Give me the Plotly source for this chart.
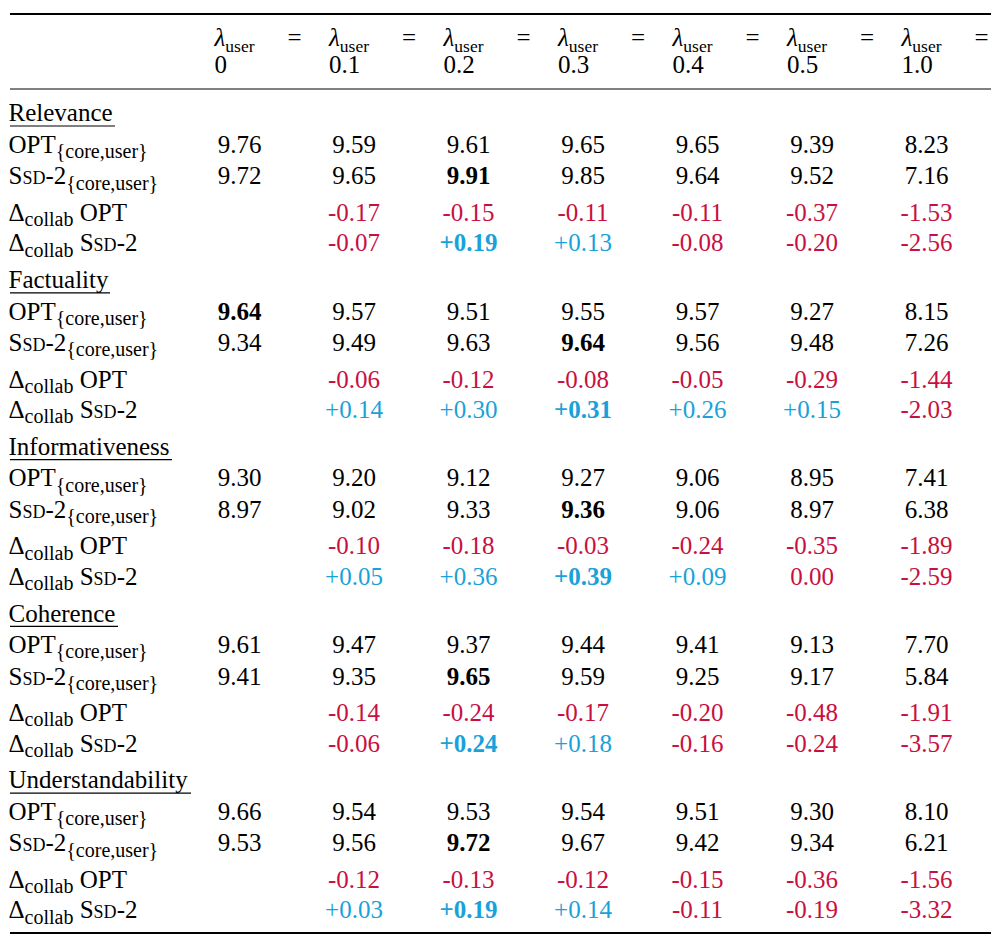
import plotly.graph_objects as go

# ---------------- data ----------------
lambdas = ["0", "0.1", "0.2", "0.3", "0.4", "0.5", "1.0"]
groups = ["Relevance", "Factuality", "Informativeness", "Coherence", "Understandability"]

opt_scores = [
    [9.76, 9.59, 9.61, 9.65, 9.65, 9.39, 8.23],
    [9.64, 9.57, 9.51, 9.55, 9.57, 9.27, 8.15],
    [9.30, 9.20, 9.12, 9.27, 9.06, 8.95, 7.41],
    [9.61, 9.47, 9.37, 9.44, 9.41, 9.13, 7.70],
    [9.66, 9.54, 9.53, 9.54, 9.51, 9.30, 8.10],
]
ssd_scores = [
    [9.72, 9.65, 9.91, 9.85, 9.64, 9.52, 7.16],
    [9.34, 9.49, 9.63, 9.64, 9.56, 9.48, 7.26],
    [8.97, 9.02, 9.33, 9.36, 9.06, 8.97, 6.38],
    [9.41, 9.35, 9.65, 9.59, 9.25, 9.17, 5.84],
    [9.53, 9.56, 9.72, 9.67, 9.42, 9.34, 6.21],
]
# deltas for lambda = 0.1 ... 1.0
delta_opt = [
    [-0.17, -0.15, -0.11, -0.11, -0.37, -1.53],
    [-0.06, -0.12, -0.08, -0.05, -0.29, -1.44],
    [-0.10, -0.18, -0.03, -0.24, -0.35, -1.89],
    [-0.14, -0.24, -0.17, -0.20, -0.48, -1.91],
    [-0.12, -0.13, -0.12, -0.15, -0.36, -1.56],
]
delta_ssd = [
    [-0.07, 0.19, 0.13, -0.08, -0.20, -2.56],
    [0.14, 0.30, 0.31, 0.26, 0.15, -2.03],
    [0.05, 0.36, 0.39, 0.09, 0.00, -2.59],
    [-0.06, 0.24, 0.18, -0.16, -0.24, -3.57],
    [0.03, 0.19, 0.14, -0.11, -0.19, -3.32],
]

SUB = "<sub><span style='font-size:20px'>%s</span></sub>"
SSD = "S<span style='font-size:18px'>SD</span>-2"
row_labels = [
    "OPT" + SUB % "{core,user}",
    SSD + SUB % "{core,user}",
    "Δ" + SUB % "collab" + " OPT",
    "Δ" + SUB % "collab" + " " + SSD,
]

# ---------------- layout constants ----------------
W, H = 1002, 946
OFF = 8            # page body margin
FONT = "Liberation Serif"
FS = 25
LEFT = 10
LABEL_X = 8.5
RIGHT = 991
COL0 = 239.5
DCOL = 114.5
HDR_Y = 116.5
HDR_LABEL_OFF = -1.5
GROUP_DY = 166.8
ROW_OFF = [30, 61.5, 98, 128.5]
HEAD_Y1, HEAD_Y2 = 40, 67
LEFT_PAD = 3
EQ_OFF = 55
UNDERLINE_W = [105, 100, 162, 108, 181]
UNDERLINE_DY = 9.5
RED = "#C8103F"
BLUE = "#19A2D9"
BLACK = "#000000"


def col_x(i):
    return COL0 + DCOL * i


def fmt_delta(v):
    if v > 0:
        return "+%.2f" % v
    if v < 0:
        return "-%.2f" % abs(v)
    return "%.2f" % v


fig = go.Figure()

# header
fig.add_trace(go.Scatter(
    x=[col_x(i) - 22 - LEFT_PAD for i in range(len(lambdas))],
    y=[HEAD_Y1] * len(lambdas),
    text=["<i>λ</i><sub>user</sub>"] * len(lambdas),
    mode="text", textposition="middle right",
    textfont=dict(family=FONT, size=FS, color=BLACK),
    hoverinfo="skip", cliponaxis=False, showlegend=False))
fig.add_trace(go.Scatter(
    x=[col_x(i) + EQ_OFF for i in range(len(lambdas))],
    y=[HEAD_Y1] * len(lambdas),
    text=["="] * len(lambdas),
    mode="text", textposition="middle center",
    textfont=dict(family=FONT, size=FS, color=BLACK),
    hoverinfo="skip", cliponaxis=False, showlegend=False))
fig.add_trace(go.Scatter(
    x=[col_x(i) - 22 - LEFT_PAD for i in range(len(lambdas))],
    y=[HEAD_Y2] * len(lambdas),
    text=lambdas,
    mode="text", textposition="middle right",
    textfont=dict(family=FONT, size=FS, color=BLACK),
    hoverinfo="skip", cliponaxis=False, showlegend=False))

# labels and values
lx, ly, lt = [], [], []
vx, vy, vt, vc = [], [], [], []
for g, name in enumerate(groups):
    gy = HDR_Y + GROUP_DY * g
    lx.append(LABEL_X); ly.append(gy + HDR_LABEL_OFF); lt.append(name)
    for r, lab in enumerate(row_labels):
        lx.append(LABEL_X); ly.append(gy + ROW_OFF[r]); lt.append(lab)
    best = max(opt_scores[g] + ssd_scores[g])
    for r, row in enumerate([opt_scores[g], ssd_scores[g]]):
        for i, v in enumerate(row):
            s = "%.2f" % v
            if v == best:
                s = "<b>%s</b>" % s
            vx.append(col_x(i)); vy.append(gy + ROW_OFF[r]); vt.append(s); vc.append(BLACK)
    best_d = max(delta_ssd[g])
    for r, row in [(2, delta_opt[g]), (3, delta_ssd[g])]:
        for i, v in enumerate(row):
            s = fmt_delta(v)
            if r == 3 and v == best_d and v > 0:
                s = "<b>%s</b>" % s
            vx.append(col_x(i + 1)); vy.append(gy + ROW_OFF[r]); vt.append(s)
            vc.append(BLUE if v > 0 else RED)
    fig.add_shape(type="line", xref="x", yref="y",
                  x0=LEFT, x1=LEFT + UNDERLINE_W[g],
                  y0=gy + UNDERLINE_DY, y1=gy + UNDERLINE_DY,
                  line=dict(color=BLACK, width=1.2))

fig.add_trace(go.Scatter(
    x=lx, y=ly, text=lt, mode="text", textposition="middle right",
    textfont=dict(family=FONT, size=FS, color=BLACK),
    hoverinfo="skip", cliponaxis=False, showlegend=False))
fig.add_trace(go.Scatter(
    x=vx, y=vy, text=vt, mode="text", textposition="middle center",
    textfont=dict(family=FONT, size=FS, color=vc),
    hoverinfo="skip", cliponaxis=False, showlegend=False))

# rules
for y0, w in [(14, 2), (89, 1), (933, 2)]:
    fig.add_shape(type="line", xref="x", yref="y", x0=LEFT, x1=RIGHT, y0=y0, y1=y0,
                  line=dict(color=BLACK, width=w))

fig.update_layout(
    width=W, height=H,
    margin=dict(l=0, r=0, t=0, b=0),
    paper_bgcolor="white", plot_bgcolor="white",
    xaxis=dict(range=[OFF, W + OFF], visible=False, fixedrange=True),
    yaxis=dict(range=[H + OFF, OFF], visible=False, fixedrange=True),
)

fig.write_html("out.html")
